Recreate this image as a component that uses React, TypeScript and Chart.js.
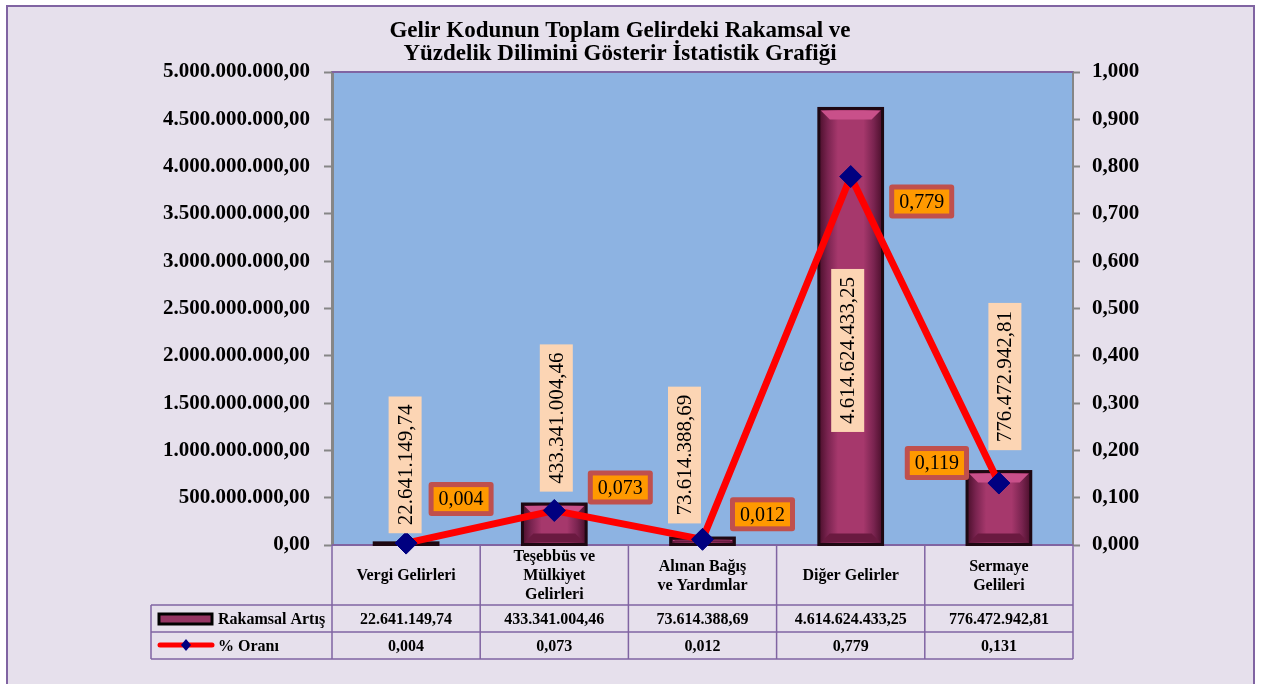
import React, { useEffect, useRef } from "react";
import { Chart, registerables } from "chart.js";
Chart.register(...registerables);

const SERIF = "'Liberation Serif', 'Times New Roman', serif";

const titleLines = [
  "Gelir Kodunun Toplam Gelirdeki Rakamsal ve",
  "Yüzdelik Dilimini Gösterir İstatistik Grafiği",
];
const categories = [
  ["Vergi Gelirleri"],
  ["Teşebbüs ve", "Mülkiyet", "Gelirleri"],
  ["Alınan Bağış", "ve Yardımlar"],
  ["Diğer Gelirler"],
  ["Sermaye", "Gelileri"],
];
const seriesNames = ["Rakamsal Artış", "% Oranı"];
const amounts = [22641149.74, 433341004.46, 73614388.69, 4614624433.25, 776472942.81];
const ratios = [0.004, 0.073, 0.012, 0.779, 0.131];
const ratioPointLabels = ["0,004", "0,073", "0,012", "0,779", "0,119"];

function fmtTR(v: number, d: number): string {
  const s = Number(v).toFixed(d);
  const [i, f] = s.split(".");
  const ii = i.replace(/\B(?=(\d{3})+(?!\d))/g, ".");
  return f ? ii + "," + f : ii;
}

// label placement offsets (style, relative to the mark)
const valueLabelOffsets = [[-1, -78], [2, -86], [-18, -83], [-3, 242], [6, -95]];
const ratioLabelOffsets = [[55, -44], [66, -23], [60, -25], [71, 25], [-62, -20]];

const customPlugin = {
  id: "custom",
  beforeDraw(chart: any) {
    const { ctx, chartArea: ca, width, height } = chart;
    ctx.save();
    ctx.fillStyle = "#ffffff";
    ctx.fillRect(0, 0, width, height);
    ctx.fillStyle = "#E6E0EC";
    ctx.fillRect(7, 6, 1247, height + 10);
    ctx.strokeStyle = "#8064A2";
    ctx.lineWidth = 2;
    ctx.strokeRect(7, 6, 1247, height + 10);
    ctx.fillStyle = "#8DB3E2";
    ctx.fillRect(ca.left, ca.top, ca.right - ca.left, ca.bottom - ca.top);
    // title
    ctx.fillStyle = "#000";
    ctx.font = `bold 23px ${SERIF}`;
    ctx.textAlign = "center";
    ctx.textBaseline = "middle";
    ctx.fillText(titleLines[0], 620, 31);
    ctx.fillText(titleLines[1], 620, 54);
    ctx.restore();
  },
  beforeDatasetsDraw(chart: any) {
    const { ctx, chartArea: ca, scales } = chart;
    const xs = scales.x;
    const n = categories.length;
    const catW = (ca.right - ca.left) / n;
    const rowTop = ca.bottom;
    const r1 = 605, r2 = 632, r3 = 659;
    const legendLeft = 151;
    ctx.save();
    // plot top border
    ctx.strokeStyle = "#8064A2";
    ctx.lineWidth = 2;
    ctx.beginPath();
    ctx.moveTo(ca.left, ca.top);
    ctx.lineTo(ca.right, ca.top);
    ctx.stroke();
    // table lines
    ctx.lineWidth = 1.5;
    ctx.beginPath();
    for (let i = 0; i <= n; i++) {
      const x = ca.left + catW * i;
      ctx.moveTo(x, rowTop);
      ctx.lineTo(x, r3);
    }
    ctx.moveTo(legendLeft, r1);
    ctx.lineTo(legendLeft, r3);
    [r1, r2, r3].forEach((y) => {
      ctx.moveTo(legendLeft, y);
      ctx.lineTo(ca.right, y);
    });
    ctx.stroke();
    // axis line
    ctx.lineWidth = 2;
    ctx.beginPath();
    ctx.moveTo(ca.left, rowTop);
    ctx.lineTo(ca.right, rowTop);
    ctx.stroke();
    // texts
    ctx.fillStyle = "#000";
    ctx.textAlign = "center";
    ctx.textBaseline = "middle";
    ctx.font = `bold 16px ${SERIF}`;
    for (let i = 0; i < n; i++) {
      const cx = xs.getPixelForValue(i);
      const lines = categories[i];
      const lh = 19;
      const cy = (rowTop + r1) / 2 + 1;
      lines.forEach((t, k) => {
        ctx.fillText(t, cx, cy + (k - (lines.length - 1) / 2) * lh);
      });
      ctx.fillText(fmtTR(amounts[i], 2), cx, (r1 + r2) / 2 + 1);
      ctx.fillText(fmtTR(ratios[i], 3), cx, (r2 + r3) / 2 + 1);
    }
    // legend swatches
    ctx.textAlign = "left";
    ctx.fillStyle = "#943462";
    ctx.fillRect(159, 614, 53, 10);
    ctx.strokeStyle = "#000";
    ctx.lineWidth = 3;
    ctx.strokeRect(159, 614, 53, 10);
    ctx.strokeStyle = "#FF0000";
    ctx.lineWidth = 5;
    ctx.lineCap = "round";
    ctx.beginPath();
    ctx.moveTo(160, 645);
    ctx.lineTo(212, 645);
    ctx.stroke();
    ctx.fillStyle = "#000080";
    ctx.beginPath();
    ctx.moveTo(186, 639);
    ctx.lineTo(191, 645);
    ctx.lineTo(186, 651);
    ctx.lineTo(181, 645);
    ctx.closePath();
    ctx.fill();
    ctx.fillStyle = "#000";
    ctx.fillText(seriesNames[0], 218, (r1 + r2) / 2 + 1);
    ctx.fillText(seriesNames[1], 218, (r2 + r3) / 2 + 1);
    ctx.restore();
  },
  afterDatasetDraw(chart: any, args: any) {
    if (args.index !== 0) return;
    const { ctx } = chart;
    const meta = chart.getDatasetMeta(0);
    ctx.save();
    meta.data.forEach((el: any) => {
      const w = el.width;
      const l = el.x - w / 2, r = el.x + w / 2, t = el.y, b = el.base;
      const g = ctx.createLinearGradient(l, 0, r, 0);
      g.addColorStop(0, "#4A0F2B");
      g.addColorStop(0.14, "#7A2450");
      g.addColorStop(0.3, "#A6386C");
      g.addColorStop(0.7, "#A6386C");
      g.addColorStop(0.86, "#7A2450");
      g.addColorStop(1, "#4A0F2B");
      ctx.fillStyle = g;
      ctx.fillRect(l, t, w, b - t);
      const bev = Math.min(9, (b - t) / 3);
      // top bevel
      ctx.fillStyle = "#C9508A";
      ctx.beginPath();
      ctx.moveTo(l + 2, t + 2);
      ctx.lineTo(r - 2, t + 2);
      ctx.lineTo(r - 2 - bev, t + 2 + bev);
      ctx.lineTo(l + 2 + bev, t + 2 + bev);
      ctx.closePath();
      ctx.fill();
      // bottom bevel
      ctx.fillStyle = "#6A1A40";
      ctx.beginPath();
      ctx.moveTo(l + 2, b - 2);
      ctx.lineTo(r - 2, b - 2);
      ctx.lineTo(r - 2 - bev, b - 2 - bev);
      ctx.lineTo(l + 2 + bev, b - 2 - bev);
      ctx.closePath();
      ctx.fill();
      ctx.strokeStyle = "#1E0812";
      ctx.lineWidth = 3;
      ctx.strokeRect(l, t, w, b - t);
    });
    ctx.restore();
  },
  afterDatasetsDraw(chart: any) {
    const { ctx } = chart;
    const barMeta = chart.getDatasetMeta(0);
    const lineMeta = chart.getDatasetMeta(1);
    ctx.save();
    ctx.textAlign = "center";
    ctx.textBaseline = "middle";
    ctx.font = `21px ${SERIF}`;
    barMeta.data.forEach((el: any, i: number) => {
      const txt = fmtTR(amounts[i], 2);
      const cx = el.x + valueLabelOffsets[i][0];
      const cy = el.y + valueLabelOffsets[i][1];
      const tw = ctx.measureText(txt).width;
      const bh = tw + 16;
      const bw = 33;
      ctx.fillStyle = "#FCD5B4";
      ctx.fillRect(cx - bw / 2, cy - bh / 2, bw, bh);
      ctx.save();
      ctx.translate(cx, cy);
      ctx.rotate(-Math.PI / 2);
      ctx.fillStyle = "#000";
      ctx.fillText(txt, 0, 1);
      ctx.restore();
    });
    ctx.font = `20px ${SERIF}`;
    lineMeta.data.forEach((el: any, i: number) => {
      const txt = ratioPointLabels[i];
      const cx = el.x + ratioLabelOffsets[i][0];
      const cy = el.y + ratioLabelOffsets[i][1];
      const tw = ctx.measureText(txt).width;
      const ow = tw + 20, oh = 34;
      ctx.fillStyle = "#C0504D";
      ctx.beginPath();
      ctx.roundRect(cx - ow / 2, cy - oh / 2, ow, oh, 3);
      ctx.fill();
      ctx.fillStyle = "#FF9900";
      ctx.fillRect(cx - ow / 2 + 5, cy - oh / 2 + 5, ow - 10, oh - 10);
      ctx.fillStyle = "#000";
      ctx.fillText(txt, cx, cy + 1);
    });
    ctx.restore();
  },
};

export default function App() {
  const ref = useRef<HTMLCanvasElement>(null);
  useEffect(() => {
    if (!ref.current) return;
    const chart = new Chart(ref.current, {
      type: "bar",
      data: {
        labels: categories.map((c) => c.join(" ")),
        datasets: [
          {
            type: "bar",
            label: seriesNames[0],
            data: amounts,
            yAxisID: "y",
            barPercentage: 0.43,
            categoryPercentage: 1,
            backgroundColor: "#9A3366",
            borderColor: "#1E0812",
            borderWidth: 3,
            order: 2,
          },
          {
            type: "line",
            label: seriesNames[1],
            data: ratios,
            yAxisID: "y1",
            borderColor: "#FF0000",
            borderWidth: 7,
            pointStyle: "rectRot",
            pointRadius: 11,
            pointBackgroundColor: "#000080",
            pointBorderColor: "#000080",
            pointBorderWidth: 1,
            tension: 0,
            clip: false,
            order: 1,
          } as any,
        ],
      },
      options: {
        responsive: false,
        animation: false,
        layout: { padding: { top: 72, bottom: 139, left: 0, right: 0 } },
        plugins: {
          legend: { display: false },
          title: { display: false },
          tooltip: { enabled: false },
        },
        scales: {
          x: { display: false, offset: true },
          y: {
            position: "left",
            min: 0,
            max: 5000000000,
            ticks: {
              stepSize: 500000000,
              padding: 14,
              color: "#000",
              font: { family: SERIF, size: 21, weight: "bold" },
              callback: (v: any) => fmtTR(Number(v), 2),
            },
            grid: { drawOnChartArea: false, tickLength: 8, tickColor: "#868686", tickWidth: 2 },
            border: { color: "#868686", width: 3 },
            afterFit: (s: any) => {
              s.width = 332;
            },
          },
          y1: {
            position: "right",
            min: 0,
            max: 1,
            ticks: {
              stepSize: 0.1,
              padding: 12,
              color: "#000",
              font: { family: SERIF, size: 21, weight: "bold" },
              callback: (v: any) => fmtTR(Number(v), 3),
            },
            grid: { drawOnChartArea: false, tickLength: 7, tickColor: "#868686", tickWidth: 2 },
            border: { color: "#868686", width: 2 },
            afterFit: (s: any) => {
              s.width = 191;
            },
          },
        },
      } as any,
      plugins: [customPlugin],
    });
    return () => chart.destroy();
  }, []);
  return (
    <div style={{ position: "fixed", left: 0, top: 0, width: 1264, height: 684 }}>
      <canvas ref={ref} width={1264} height={684} style={{ display: "block" }} />
    </div>
  );
}
